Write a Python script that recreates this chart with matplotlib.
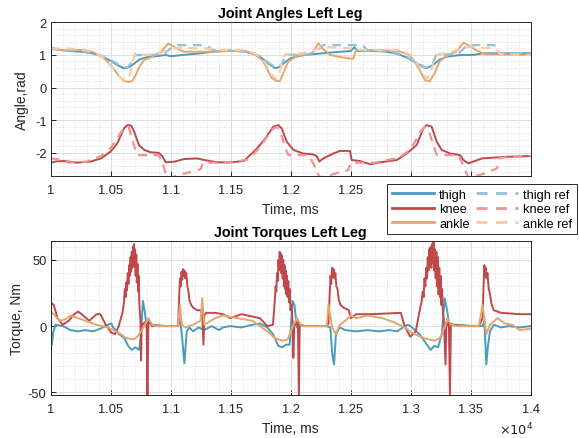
import matplotlib
matplotlib.use("Agg")
import matplotlib.pyplot as plt
import numpy as np
from matplotlib.lines import Line2D
from matplotlib.ticker import MultipleLocator, FuncFormatter

plt.rcParams["font.family"] = ["Liberation Sans", "DejaVu Sans"]
plt.rcParams["axes.unicode_minus"] = False

# ---- joint angles (time in ms, angle in rad) ----
thigh_t = [10000, 10050, 10150, 10250, 10350, 10430, 10500, 10560, 10610, 10650, 10690, 10740, 10800,
           10900, 10960, 11000, 11100, 11250, 11350, 11500, 11620, 11700, 11760, 11820, 11870, 11910,
           11960, 12000, 12080, 12200, 12350, 12500, 12530, 12555, 12650, 12800, 12900, 12980, 13060,
           13130, 13180, 13240, 13300, 13420, 13520, 13600, 14000]
thigh_v = [1.18, 1.17, 1.12, 1.1, 1.05, 0.95, 0.82, 0.68, 0.59, 0.62, 0.72, 0.86, 0.93,
           0.97, 1.0, 0.96, 1.0, 1.05, 1.1, 1.13, 1.1, 1.02, 0.9, 0.72, 0.59, 0.64,
           0.8, 0.9, 0.98, 1.03, 1.08, 1.12, 1.24, 1.12, 1.13, 1.1, 1.02, 0.9, 0.72,
           0.59, 0.68, 0.85, 0.95, 1.0, 1.0, 1.05, 1.05]

thigh_ref_t = [10000, 10100, 10250, 10350, 10450, 10520, 10600, 10640, 10670, 10690, 10720, 10850, 10950,
               11000, 11050, 11300, 11350, 11500, 11650, 11750, 11820, 11870, 11900, 11930, 11950, 11980,
               12150, 12230, 12270, 12600, 12640, 12800, 12900, 12980, 13060, 13120, 13160, 13190, 13210,
               13250, 13400, 13470, 13700, 13740, 14000]
thigh_ref_v = [1.22, 1.15, 1.12, 1.06, 0.95, 0.8, 0.63, 0.62, 0.75, 0.95, 1.0, 1.0, 1.05,
               1.2, 1.3, 1.3, 1.15, 1.15, 1.1, 0.95, 0.75, 0.62, 0.62, 0.75, 0.95, 1.0,
               1.02, 1.15, 1.3, 1.3, 1.13, 1.12, 1.04, 0.92, 0.75, 0.62, 0.63, 0.8, 0.98,
               1.0, 1.05, 1.3, 1.3, 1.05, 1.05]

knee_t = [10000, 10050, 10110, 10220, 10330, 10420, 10500, 10555, 10610, 10640, 10670, 10695, 10735,
          10780, 10830, 10900, 10930, 10958, 11030, 11110, 11220, 11280, 11390, 11500, 11610, 11720,
          11780, 11855, 11897, 11925, 11967, 12022, 12105, 12188, 12217, 12238, 12272, 12355, 12411,
          12494, 12508, 12578, 12661, 12744, 12883, 12967, 13050, 13105, 13133, 13175, 13217, 13258,
          13328, 13411, 13439, 13480, 13536, 13594, 13800, 14000]
knee_v = [-2.3, -2.26, -2.25, -2.3, -2.27, -2.17, -1.96, -1.71, -1.25, -1.15, -1.16, -1.35, -1.76,
          -1.91, -1.98, -2.0, -2.1, -2.29, -2.27, -2.19, -2.17, -2.22, -2.29, -2.29, -2.25, -1.86,
          -1.6, -1.2, -1.15, -1.25, -1.66, -1.91, -2.02, -2.05, -2.1, -2.27, -2.17, -2.02, -1.94,
          -1.94, -2.22, -2.25, -2.35, -2.29, -2.22, -2.02, -1.76, -1.25, -1.15, -1.2, -1.66, -1.91,
          -2.02, -2.07, -2.22, -2.32, -2.25, -2.17, -2.12, -2.1]

knee_ref_t = [10000, 10060, 10150, 10300, 10420, 10500, 10580, 10620, 10650, 10680, 10720, 10900, 10940,
              10970, 11000, 11150, 11250, 11270, 11500, 11650, 11750, 11840, 11880, 11910, 11950, 11980,
              12150, 12200, 12240, 12300, 12400, 12480, 12500, 12700, 12900, 13000, 13080, 13120, 13150,
              13190, 13220, 13400, 13440, 13480, 13600, 13720, 13740, 14000]
knee_ref_v = [-2.17, -2.2, -2.3, -2.27, -2.1, -1.85, -1.4, -1.2, -1.2, -1.6, -2.07, -2.07, -2.4,
              -2.8, -2.75, -2.6, -2.5, -2.3, -2.3, -2.2, -1.8, -1.3, -1.2, -1.3, -1.8, -2.07,
              -2.07, -2.4, -2.75, -2.72, -2.6, -2.53, -2.3, -2.3, -2.15, -1.9, -1.35, -1.2, -1.3,
              -1.8, -2.07, -2.07, -2.4, -2.75, -2.65, -2.47, -2.15, -2.1]

ankle_t = [10000, 10050, 10150, 10250, 10330, 10400, 10460, 10520, 10570, 10610, 10650, 10680, 10710,
           10740, 10780, 10850, 10920, 10980, 11020, 11060, 11110, 11300, 11500, 11620, 11700, 11760,
           11800, 11840, 11880, 11910, 11940, 11980, 12050, 12180, 12230, 12270, 12330, 12420, 12520,
           12545, 12700, 12900, 12990, 13040, 13080, 13120, 13160, 13200, 13240, 13300, 13380, 13440,
           13500, 13560, 13620, 14000]
ankle_v = [1.25, 1.15, 1.14, 1.15, 1.12, 1.0, 0.85, 0.6, 0.35, 0.2, 0.17, 0.2, 0.4,
           0.65, 0.85, 0.95, 1.1, 1.35, 1.27, 1.18, 1.1, 1.1, 1.12, 1.12, 1.02, 0.85,
           0.6, 0.3, 0.2, 0.2, 0.45, 0.8, 0.97, 1.05, 1.36, 1.18, 1.0, 0.93, 0.88,
           1.15, 1.15, 1.12, 1.0, 0.75, 0.5, 0.22, 0.2, 0.45, 0.8, 0.97, 1.1, 1.38,
           1.25, 1.12, 1.02, 1.0]

ankle_ref_t = [10000, 10100, 10250, 10350, 10450, 10520, 10580, 10630, 10660, 10690, 10710, 10800, 10900,
               10980, 11050, 11300, 11400, 11600, 11700, 11780, 11840, 11880, 11910, 11940, 11960, 12100,
               12200, 12260, 12500, 12560, 12900, 13000, 13080, 13130, 13170, 13200, 13230, 13350, 13420,
               13480, 13700, 13750, 14000]
ankle_ref_v = [1.2, 1.2, 1.18, 1.1, 0.9, 0.6, 0.3, 0.2, 0.4, 0.9, 1.05, 1.0, 1.05,
               1.15, 1.22, 1.2, 1.15, 1.15, 1.05, 0.8, 0.4, 0.25, 0.5, 0.95, 1.02, 1.05,
               1.15, 1.25, 1.2, 1.15, 1.15, 1.0, 0.6, 0.25, 0.5, 0.95, 1.02, 1.1, 1.2,
               1.25, 1.2, 1.02, 1.0]

# ---- joint torques (time in ms, torque in Nm) ----
knee_tq = [
    (10000, 18), (10025, 16), (10057, 6), (10100, 1), (10150, 4), (10196, 9), (10227, 11), (10258, 9),
    (10320, 4), (10382, 9), (10413, 9), (10459, 1), (10505, -5), (10536, -6), (10567, 0), (10600, 11),
    (10610, 18), (10618, 28), (10624, 22), (10630, 33), (10636, 27), (10642, 40), (10648, 32), (10654, 46),
    (10660, 38), (10665, 52), (10670, 41), (10675, 56), (10680, 44), (10685, 60), (10690, 48), (10694, 62),
    (10698, 45), (10703, 58), (10708, 38), (10713, 54), (10718, 33), (10723, 47), (10728, 26), (10733, 38),
    (10738, 18), (10743, 10), (10748, 4), (10753, -26), (10758, 2), (10768, 1), (10785, 3), (10799, 2),
    (10806, -52), (10814, 3), (10830, 2), (10845, 0), (10970, 0), (11062, 0),
    (11070, 22), (11077, 36), (11083, 30), (11090, 41), (11096, 35), (11102, 43), (11108, 38), (11115, 42),
    (11122, 36), (11130, 40), (11139, 30), (11148, 26), (11155, 20), (11170, 16), (11186, 14),
    (11220, 12), (11248, 12), (11262, 10), (11273, -14), (11280, 8), (11294, 10), (11372, 10), (11434, 9),
    (11496, 6), (11589, 9), (11743, 6), (11805, 0), (11852, 1),
    (11860, 10), (11868, 20), (11874, 30), (11880, 26), (11886, 40), (11892, 34), (11898, 50), (11903, 42),
    (11908, 56), (11913, 46), (11918, 55), (11923, 40), (11928, 53), (11933, 36), (11938, 50), (11943, 30),
    (11948, 46), (11953, 28), (11958, 42), (11963, 24), (11968, 38), (11974, 22), (11980, 34), (11986, 18),
    (11992, 28), (11998, 12), (12006, 16), (12015, 4), (12022, -24),
    (12030, 2), (12037, 1), (12060, 3), (12068, -54), (12075, 2), (12083, 1), (12114, 0), (12300, 0),
    (12315, 2), (12325, 25), (12332, 38), (12338, 32), (12345, 44), (12352, 37), (12358, 43), (12365, 36),
    (12372, 40), (12380, 30), (12390, 28), (12400, 20), (12415, 16),
    (12439, 14), (12485, 12), (12500, 6), (12547, 9), (12671, 9), (12918, 10), (12949, 0), (12996, -8),
    (13042, -4), (13073, 11),
    (13090, 18), (13100, 26), (13108, 22), (13115, 36), (13122, 30), (13130, 44), (13136, 36), (13142, 52),
    (13148, 42), (13154, 58), (13160, 46), (13166, 60), (13172, 44), (13178, 62), (13184, 48), (13190, 64),
    (13196, 42), (13202, 58), (13208, 36), (13214, 56), (13220, 30), (13226, 52), (13232, 24), (13238, 44),
    (13244, 22), (13250, 38), (13256, 16), (13262, 28), (13268, 10), (13275, 6), (13290, -29),
    (13297, 3), (13305, 1), (13318, 2), (13327, -52), (13335, 2), (13351, 1), (13413, 0), (13568, 0),
    (13599, 6), (13607, 30), (13614, 46), (13620, 38), (13626, 44), (13632, 36), (13640, 40), (13650, 28),
    (13661, 24), (13675, 16), (13692, 12), (13754, 10), (13908, 9), (14000, 9),
]

thigh_tq_t = [10000, 10010, 10020, 10040, 10103, 10165, 10227, 10289, 10351, 10413, 10475, 10505, 10520,
              10567, 10614, 10645, 10675, 10706, 10737, 10753, 10768, 10784, 10799, 10814, 10845, 10969,
              11062, 11077, 11092, 11114, 11133, 11155, 11186, 11232, 11279, 11340, 11403, 11434, 11496,
              11589, 11681, 11743, 11805, 11852, 11898, 11929, 11960, 11991, 12015, 12031, 12052, 12083,
              12114, 12300, 12330, 12346, 12361, 12377, 12408, 12454, 12547, 12640, 12733, 12826, 12888,
              12949, 12980, 13011, 13073, 13135, 13166, 13197, 13228, 13259, 13283, 13305, 13320, 13382,
              13537, 13599, 13614, 13630, 13645, 13661, 13692, 13754, 13816, 13908, 14000]
thigh_tq_v = [0, -14, -5, 1, 0, -3, -4, -3, -4, -2, 1, 2, -1,
              -6, -9, -15, -18, -16, -18, -6, 19, 11, -1, 4, 1, 0,
              0, 6, -6, -28, -4, -1, -4, -1, -3, 0, -3, -1, 0,
              -1, 1, 2, -1, -6, -15, -16, -14, -14, 19, 16, -1, 1,
              0, 0, -1, -21, -29, -6, -1, -3, -4, -3, -4, -3, -4,
              0, 1, -1, -6, -14, -18, -15, -16, -6, 21, 11, 1, 1,
              0, 0, 4, -29, -14, -4, 1, -1, 0, -1, 0]

ankle_tq_t = [10000, 10026, 10072, 10119, 10165, 10227, 10289, 10382, 10475, 10567, 10629, 10691, 10722,
              10753, 10784, 10814, 10845, 10876, 11062, 11077, 11092, 11124, 11186, 11248, 11263, 11279,
              11372, 11434, 11558, 11681, 11743, 11805, 11867, 11929, 11975, 12022, 12052, 12083, 12114,
              12300, 12315, 12346, 12377, 12408, 12454, 12500, 12547, 12640, 12764, 12857, 12949, 13011,
              13104, 13197, 13243, 13290, 13305, 13336, 13382, 13568, 13599, 13630, 13661, 13723, 13785,
              13846, 13908, 14000]
ankle_tq_v = [11, 9, 4, 5, 8, 6, 4, 1, -1, -5, -9, -10, -8,
              -4, 1, 6, 1, 0, 0, 16, 1, -1, 1, 4, 21, 1,
              6, 8, 6, 4, 0, -4, -9, -11, -10, 1, 6, 1, 0,
              0, 16, -1, -6, 1, 4, 8, 6, 8, 6, 3, -1, -5,
              -9, -11, -9, 1, 6, 1, 0, 0, 16, -6, 1, 6, 2,
              1, -3, -2]

c_thigh, c_knee, c_ankle = "#4a9bbd", "#c0484a", "#e4a66e"
c_thigh_ref, c_knee_ref, c_ankle_ref = "#94c2da", "#eb9595", "#f6cba3"
ref_dash = (0, (4, 3))


def style_axes(ax, ylim, ymajor, yminor, last_label):
    ax.set_xlim(10000, 14000)
    ax.set_ylim(*ylim)
    ax.xaxis.set_major_locator(MultipleLocator(500))
    ax.xaxis.set_minor_locator(MultipleLocator(100))
    ax.yaxis.set_major_locator(MultipleLocator(ymajor))
    ax.yaxis.set_minor_locator(MultipleLocator(yminor))
    ax.xaxis.set_major_formatter(
        FuncFormatter(lambda v, p: "%g" % round(v / 1e4, 4) if v <= last_label else ""))
    ax.grid(True, which="major", color="#dedede", linewidth=0.7)
    ax.grid(True, which="minor", color="#c4c4c4", linewidth=0.5, linestyle=(0, (1, 2.5)))
    ax.set_axisbelow(True)
    ax.tick_params(which="both", direction="in", colors="#262626", labelsize=9.3)
    ax.tick_params(which="major", length=3.5, width=0.7)
    ax.tick_params(which="minor", length=0)
    ax.tick_params(axis="x", pad=6)
    ax.tick_params(axis="y", pad=3)
    for s in ax.spines.values():
        s.set_color("#262626")
        s.set_linewidth(0.7)


fig = plt.figure(figsize=(5.79, 4.39), dpi=100)
ax1 = fig.add_axes([0.0876, 0.5975, 0.829, 0.3494])
ax2 = fig.add_axes([0.0876, 0.098, 0.829, 0.350])

ax1.plot(thigh_t, thigh_v, color=c_thigh, lw=1.4)
ax1.plot(knee_t, knee_v, color=c_knee, lw=1.4)
ax1.plot(ankle_t, ankle_v, color=c_ankle, lw=1.4)
ax1.plot(thigh_ref_t, thigh_ref_v, color=c_thigh_ref, lw=1.6, linestyle=ref_dash)
ax1.plot(knee_ref_t, knee_ref_v, color=c_knee_ref, lw=1.6, linestyle=ref_dash)
ax1.plot(ankle_ref_t, ankle_ref_v, color=c_ankle_ref, lw=1.6, linestyle=ref_dash)
style_axes(ax1, (-2.7, 2), 1, 0.2, 12500)
ax1.set_title("Joint Angles Left Leg", fontsize=10.3, fontweight="bold", pad=4)
ax1.set_xlabel("Time, ms", fontsize=10, color="#262626")
ax1.set_ylabel("Angle,rad", fontsize=10, color="#262626", labelpad=4)

knee_tq_t, knee_tq_v = np.array(knee_tq).T
ax2.plot(thigh_tq_t, thigh_tq_v, color=c_thigh, lw=1.4)
ax2.plot(knee_tq_t, knee_tq_v, color=c_knee, lw=1.4)
ax2.plot(ankle_tq_t, ankle_tq_v, color=c_ankle, lw=1.4)
style_axes(ax2, (-52, 64), 50, 10, 14000)
ax2.set_title("Joint Torques Left Leg", fontsize=10.3, fontweight="bold", pad=4)
ax2.set_xlabel("Time, ms", fontsize=10, color="#262626")
ax2.set_ylabel("Torque, Nm", fontsize=10, color="#262626", labelpad=3)
ax2.text(1.005, -0.222, r"$\times10^4$", transform=ax2.transAxes, ha="right", va="center",
         fontsize=9.3, color="#262626")

handles = [
    Line2D([], [], color=c_thigh, lw=2),
    Line2D([], [], color=c_knee, lw=2),
    Line2D([], [], color=c_ankle, lw=2),
    Line2D([], [], color=c_thigh_ref, lw=2, linestyle=ref_dash),
    Line2D([], [], color=c_knee_ref, lw=2, linestyle=ref_dash),
    Line2D([], [], color=c_ankle_ref, lw=2, linestyle=ref_dash),
]
labels = ["thigh", "knee", "ankle", "thigh ref", "knee ref", "ankle ref"]
leg = fig.legend(handles, labels, loc="upper right", bbox_to_anchor=(0.9965, 0.578), ncol=2,
                 fontsize=9.2, frameon=True, fancybox=False, framealpha=1, edgecolor="#262626",
                 handlelength=3.3, handletextpad=0.4, columnspacing=0.5, labelspacing=0.2,
                 borderpad=0.35, borderaxespad=0)
leg.get_frame().set_linewidth(0.7)

fig.savefig("out.png", dpi=100)
